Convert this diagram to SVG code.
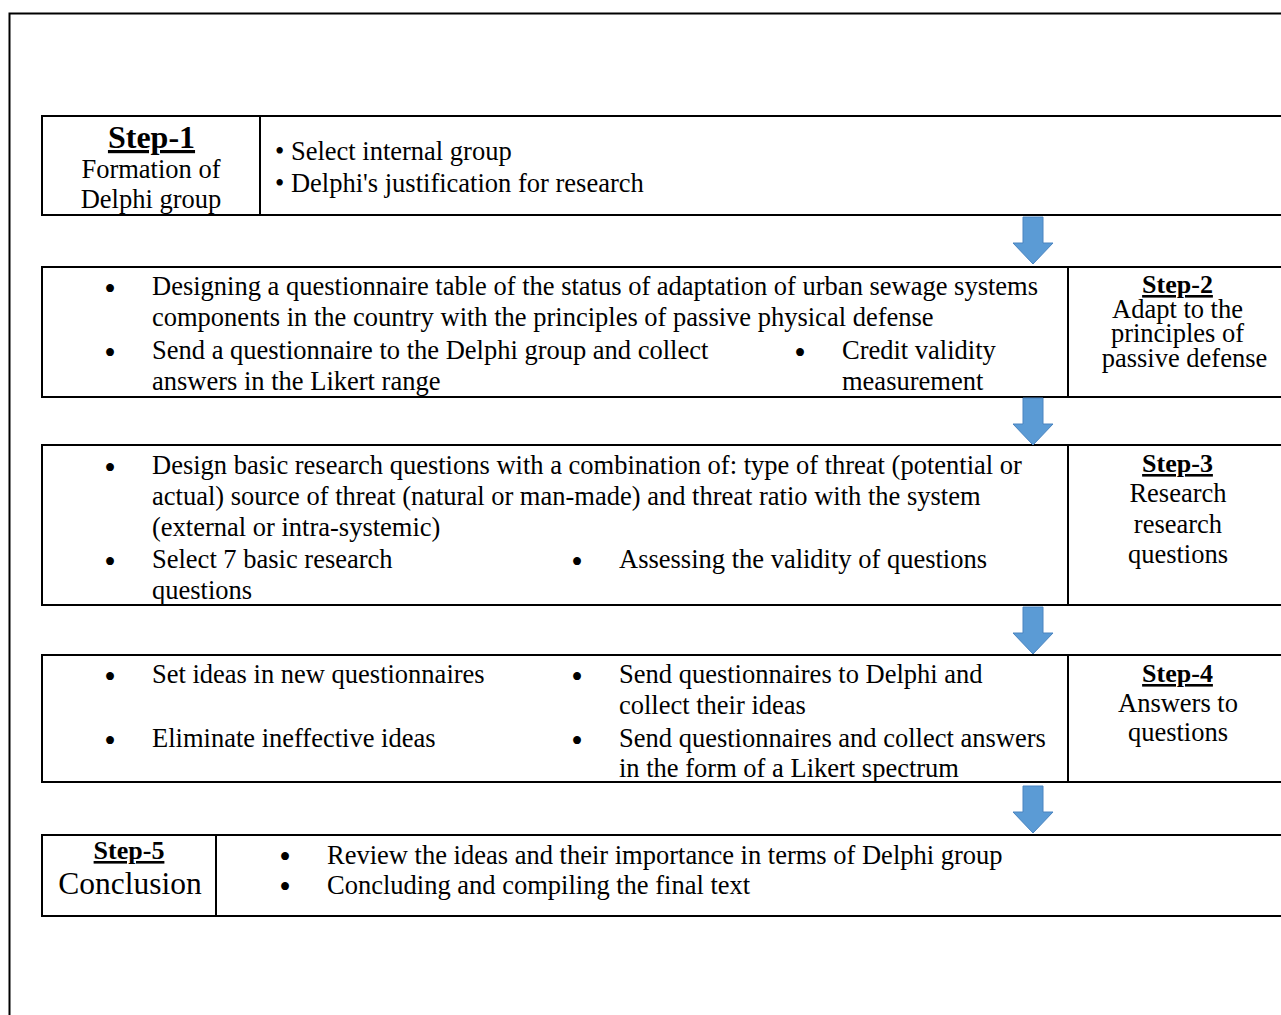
<svg xmlns="http://www.w3.org/2000/svg" width="1281" height="1015" viewBox="0 0 1281 1015">
<style>
.box{fill:#fff;stroke:#000;stroke-width:2}
.ln{stroke:#000;stroke-width:2}
.t{font-family:"Liberation Serif","Times New Roman",serif;font-size:26.5px;fill:#000}
.b{font-family:"Liberation Serif","Times New Roman",serif;font-size:33px;fill:#000;text-anchor:middle}
.s{font-family:"Liberation Serif","Times New Roman",serif;font-size:26.5px;fill:#000;text-anchor:middle}
.h{font-family:"Liberation Serif","Times New Roman",serif;font-size:26px;font-weight:bold;fill:#000;text-anchor:middle;text-decoration:underline}
.arr{fill:#5b9bd5;stroke:#4a84c0;stroke-width:1}
</style>
<defs>
<path id="arrow" d="M-10,0 H10 V26 H20 L0,47 L-20,26 H-10 Z"/>
</defs>
<rect x="0" y="0" width="1281" height="1015" fill="#fff"/>
<path d="M9.5,1020 V13.5 H1290" fill="none" stroke="#000" stroke-width="2"/>

<g id="step1">
<rect class="box" x="42" y="116" width="1250" height="99"/>
<line class="ln" x1="260" y1="116" x2="260" y2="215"/>
<text class="h" x="151.5" y="148" style="font-size:32px">Step-1</text>
<text class="s" x="151" y="178">Formation of</text>
<text class="s" x="151" y="208">Delphi group</text>
<text class="t" x="275" y="160">• Select internal group</text>
<text class="t" x="275" y="192">• Delphi's justification for research</text>
</g>

<g id="step2">
<rect class="box" x="42" y="267" width="1250" height="130"/>
<line class="ln" x1="1068" y1="267" x2="1068" y2="397"/>
<text class="b" x="110" y="300">•</text>
<text class="t" x="152" y="295">Designing a questionnaire table of the status of adaptation of urban sewage systems</text>
<text class="t" x="152" y="326">components in the country with the principles of passive physical defense</text>
<text class="b" x="110" y="364">•</text>
<text class="t" x="152" y="359">Send a questionnaire to the Delphi group and collect</text>
<text class="t" x="152" y="390">answers in the Likert range</text>
<text class="b" x="800" y="364">•</text>
<text class="t" x="842" y="359">Credit validity</text>
<text class="t" x="842" y="390">measurement</text>
<text class="h" x="1177.5" y="293">Step-2</text>
<text class="s" x="1177.5" y="318">Adapt to the</text>
<text class="s" x="1177.5" y="342">principles of</text>
<text class="s" x="1184.5" y="367">passive defense</text>
</g>

<g id="step3">
<rect class="box" x="42" y="445" width="1250" height="160"/>
<line class="ln" x1="1068" y1="445" x2="1068" y2="605"/>
<text class="b" x="110" y="479">•</text>
<text class="t" x="152" y="474">Design basic research questions with a combination of: type of threat (potential or</text>
<text class="t" x="152" y="505">actual) source of threat (natural or man-made) and threat ratio with the system</text>
<text class="t" x="152" y="536">(external or intra-systemic)</text>
<text class="b" x="110" y="573">•</text>
<text class="t" x="152" y="568">Select 7 basic research</text>
<text class="t" x="152" y="599">questions</text>
<text class="b" x="577" y="573">•</text>
<text class="t" x="619" y="568">Assessing the validity of questions</text>
<text class="h" x="1177.5" y="472">Step-3</text>
<text class="s" x="1178" y="502">Research</text>
<text class="s" x="1178" y="533">research</text>
<text class="s" x="1178" y="563">questions</text>
</g>

<g id="step4">
<rect class="box" x="42" y="655" width="1250" height="127"/>
<line class="ln" x1="1068" y1="655" x2="1068" y2="782"/>
<text class="b" x="110" y="688">•</text>
<text class="t" x="152" y="683">Set ideas in new questionnaires</text>
<text class="b" x="110" y="752">•</text>
<text class="t" x="152" y="747">Eliminate ineffective ideas</text>
<text class="b" x="577" y="688">•</text>
<text class="t" x="619" y="683">Send questionnaires to Delphi and</text>
<text class="t" x="619" y="714">collect their ideas</text>
<text class="b" x="577" y="752">•</text>
<text class="t" x="619" y="747">Send questionnaires and collect answers</text>
<text class="t" x="619" y="777">in the form of a Likert spectrum</text>
<text class="h" x="1177.5" y="682">Step-4</text>
<text class="s" x="1178" y="712">Answers to</text>
<text class="s" x="1178" y="741">questions</text>
</g>

<g id="step5">
<rect class="box" x="42" y="835" width="1250" height="81"/>
<line class="ln" x1="216" y1="835" x2="216" y2="916"/>
<text class="h" x="129" y="859">Step-5</text>
<text class="s" x="130" y="894" style="font-size:31.5px">Conclusion</text>
<text class="b" x="285" y="868">•</text>
<text class="t" x="327" y="864">Review the ideas and their importance in terms of Delphi group</text>
<text class="b" x="285" y="898">•</text>
<text class="t" x="327" y="894">Concluding and compiling the final text</text>
</g>

<g id="connectors">
<use href="#arrow" class="arr" transform="translate(1033,217)"/>
<use href="#arrow" class="arr" transform="translate(1033,398)"/>
<use href="#arrow" class="arr" transform="translate(1033,607)"/>
<use href="#arrow" class="arr" transform="translate(1033,786)"/>
</g>
</svg>
